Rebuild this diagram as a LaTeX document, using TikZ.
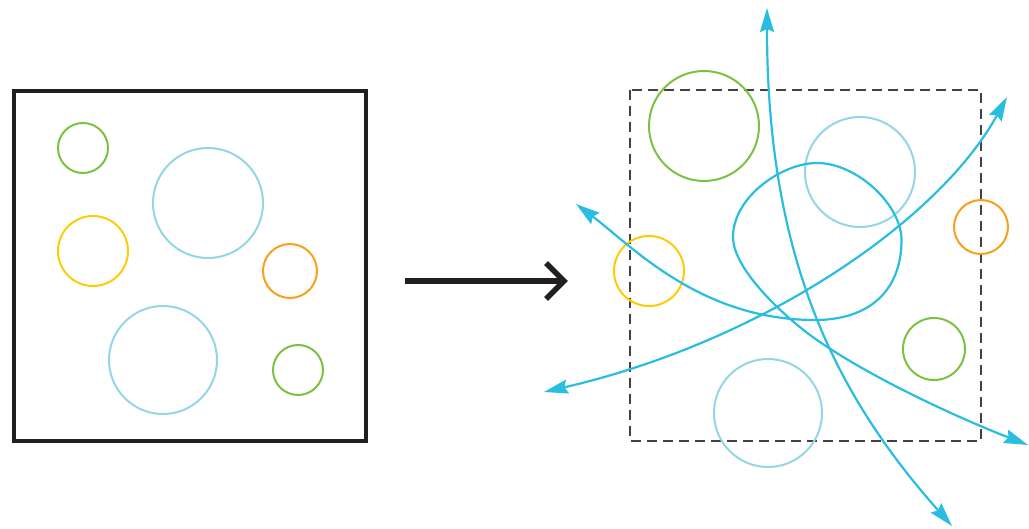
\documentclass[tikz,border=0pt]{standalone}
\usetikzlibrary{arrows.meta}
\definecolor{ink}{HTML}{231F20}
\definecolor{flow}{HTML}{29BDE0}
\definecolor{pale}{HTML}{94D6E4}
\definecolor{leaf}{HTML}{7DC142}
\definecolor{sun}{HTML}{FFCB05}
\definecolor{amber}{HTML}{F7A11A}
\tikzset{
  ring/.style={line width=2pt},
  flowline/.style={flow, line width=2.2pt, {Stealth[length=24pt,width=14pt,inset=3pt]}-{Stealth[length=24pt,width=14pt,inset=3pt]}},
}
\begin{document}
\begin{tikzpicture}[x=1pt,y=-1pt]
\useasboundingbox (0,0) rectangle (1029,529);
% left box
\draw[ink, line width=4.5pt] (14,91) rectangle (366,441);
\draw[ring, leaf]  (83,148) circle (25);
\draw[ring, pale]  (208,203) circle (55);
\draw[ring, sun]   (93,251) circle (35);
\draw[ring, amber] (290,271) circle (27);
\draw[ring, pale]  (163,360) circle (54);
\draw[ring, leaf]  (298,370) circle (25);
% big arrow
\coordinate (a0) at (405,281);
\coordinate (a1) at (564,281);
\draw[ink, line width=5.5pt] (a0) -- (a1);
\draw[ink, line width=5.5pt, line join=miter] (546,263) -- (a1) -- (546,299);
% right box
\draw[ink!85, line width=1.1pt, dash pattern=on 10pt off 6pt] (630,90) rectangle (981,441);
\draw[ring, leaf]  (704,126) circle (55);
\draw[ring, pale]  (860,172) circle (55);
\draw[ring, amber] (981,227) circle (27);
\draw[ring, sun]   (649,271) circle (35);
\draw[ring, leaf]  (934,349) circle (31);
\draw[ring, pale]  (768,413) circle (54);
% flow curves
\coordinate (t1) at (767,8);
\coordinate (b1) at (952,526);
\draw[flowline] (t1) .. controls (767,258) and (835,394) .. (b1);
\coordinate (t3) at (544,392);
\coordinate (b3) at (1007,97);
\draw[flowline] (t3) .. controls (761.5,342) and (939,221) .. (b3);
\coordinate (t2) at (576,204);
\coordinate (b2) at (1028,445);
\draw[flowline] (t2) .. controls (632,246) and (700,320) .. (815,320)
  .. controls (870,320) and (901.5,290) .. (901.5,240)
  .. controls (901.5,205) and (857,163) .. (817,163)
  .. controls (782,163) and (733,197) .. (733,237)
  .. controls (733,272) and (792,323) .. (817,340)
  .. controls (874.4,379.9) and (962.9,419.8) .. (b2);
\end{tikzpicture}
\end{document}
